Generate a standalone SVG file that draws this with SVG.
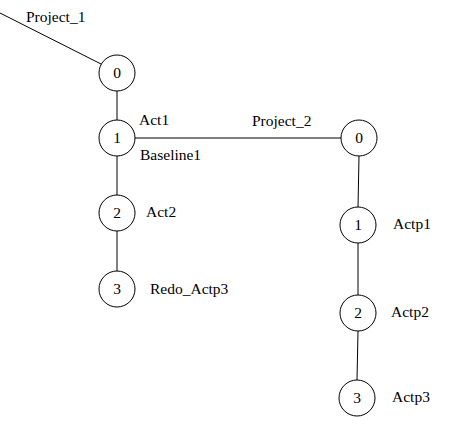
<svg xmlns="http://www.w3.org/2000/svg" width="471" height="435" viewBox="0 0 471 435">
<style>
.n{fill:#fff;stroke:#000;stroke-width:1}
.e{stroke:#000;stroke-width:1;fill:none}
text{font-family:"Liberation Serif","Times New Roman",serif;font-size:15.5px;fill:#000}
.c{text-anchor:middle}
</style>
<rect width="471" height="435" fill="#fff"/>
<g id="connectors">
<line class="e" x1="0" y1="13" x2="101" y2="64"/>
<line class="e" x1="117" y1="91" x2="117" y2="120"/>
<line class="e" x1="117" y1="156" x2="117" y2="195"/>
<line class="e" x1="117" y1="231" x2="117" y2="271"/>
<line class="e" x1="135" y1="138" x2="341" y2="138"/>
<line class="e" x1="359" y1="156" x2="358" y2="207"/>
<line class="e" x1="358" y1="243" x2="358" y2="295"/>
<line class="e" x1="358" y1="331" x2="357" y2="380"/>
</g>
<g id="label-project1"><text x="26" y="22">Project_1</text></g>
<g id="label-project2"><text x="252" y="126">Project_2</text></g>
<g id="p1-0"><circle class="n" cx="117" cy="73" r="18"/><text class="c" x="117" y="78">0</text></g>
<g id="p1-1"><circle class="n" cx="117" cy="138" r="18"/><text class="c" x="117" y="143">1</text><text x="139" y="125">Act1</text><text x="140" y="160">Baseline1</text></g>
<g id="p1-2"><circle class="n" cx="117" cy="213" r="18"/><text class="c" x="117" y="218">2</text><text x="146" y="217">Act2</text></g>
<g id="p1-3"><circle class="n" cx="117" cy="289" r="18"/><text class="c" x="117" y="294">3</text><text x="150" y="294">Redo_Actp3</text></g>
<g id="p2-0"><circle class="n" cx="359" cy="138" r="18"/><text class="c" x="359" y="143">0</text></g>
<g id="p2-1"><circle class="n" cx="358" cy="225" r="18"/><text class="c" x="358" y="230">1</text><text x="393" y="229">Actp1</text></g>
<g id="p2-2"><circle class="n" cx="358" cy="313" r="18"/><text class="c" x="358" y="318">2</text><text x="391" y="317">Actp2</text></g>
<g id="p2-3"><circle class="n" cx="357" cy="398" r="18"/><text class="c" x="357" y="403">3</text><text x="392" y="402">Actp3</text></g>
</svg>
